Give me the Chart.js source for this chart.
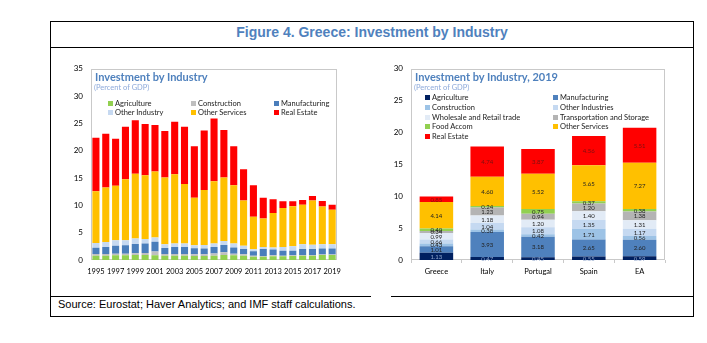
<!DOCTYPE html>
<html lang="en">
<head>
<meta charset="UTF-8">
<title>Figure 4. Greece: Investment by Industry</title>
<script src="https://cdn.jsdelivr.net/npm/chart.js@4.4.0/dist/chart.umd.min.js"></script>
<style>
    body {
        margin: 0;
        width: 707px;
        height: 343px;
        background: #fff;
        position: relative;
        overflow: hidden;
        font-family: Lato, 'Open Sans', sans-serif;
    }
    .line { position: absolute; background: #000; }
    .fig-title {
        position: absolute;
        left: 50px; width: 644px; top: 24px;
        text-align: center;
        font: bold 14px 'Liberation Sans', Arial, sans-serif;
        color: #4f81bd;
    }
    .source {
        position: absolute;
        left: 58px; top: 298px;
        font: 11px 'Liberation Sans', Arial, sans-serif;
        color: #000;
    }
    .chart-box { position: absolute; }
    .ctitle {
        position: absolute;
        font-weight: bold;
        font-size: 11px;
        color: #4f81bd;
        white-space: nowrap;
    }
    .csub {
        position: absolute;
        font-size: 7.5px;
        color: #8eaadb;
        white-space: nowrap;
    }
    .leg {
        position: absolute;
        font-size: 7.5px;
        color: #222;
        white-space: nowrap;
        line-height: 9px;
    }
    .leg i {
        display: inline-block;
        width: 5px; height: 5px;
        margin-right: 2px;
        vertical-align: 0px;
    }
</style>
</head>
<body>
    <!-- figure frame -->
    <div class="line" style="left:50px;top:21px;width:644px;height:1px"></div>
    <div class="line" style="left:50px;top:47px;width:644px;height:1px"></div>
    <div class="line" style="left:50px;top:296px;width:321px;height:1px"></div>
    <div class="line" style="left:391px;top:296px;width:303px;height:1px"></div>
    <div class="line" style="left:50px;top:316px;width:644px;height:1px"></div>
    <div class="line" style="left:50px;top:21px;width:1px;height:296px"></div>
    <div class="line" style="left:693px;top:21px;width:1px;height:296px"></div>

    <div class="fig-title">Figure 4. Greece: Investment by Industry</div>
    <div class="source">Source: Eurostat; Haver Analytics; and IMF staff calculations.</div>

    <div class="chart-box" style="left:52px;top:56px;width:296px;height:228px">
        <canvas id="byYear" width="296" height="228"></canvas>
    </div>
    <div class="chart-box" style="left:370px;top:56px;width:300px;height:228px">
        <canvas id="byCountry" width="300" height="228"></canvas>
    </div>

    <!-- left chart title + legend -->
    <div class="ctitle" style="left:95px;top:70px">Investment by Industry</div>
    <div class="csub" style="left:94px;top:83px">(Percent of GDP)</div>
    <div id="legLeft"></div>

    <!-- right chart title + legend -->
    <div class="ctitle" style="left:415px;top:70px">Investment by Industry, 2019</div>
    <div class="csub" style="left:414px;top:83px">(Percent of GDP)</div>
    <div id="legRight"></div>

<script>
// ---- left chart data (percent of GDP) ----
const years = ['1995','1996','1997','1998','1999','2000','2001','2002','2003','2004','2005','2006',
               '2007','2008','2009','2010','2011','2012','2013','2014','2015','2016','2017','2018','2019'];
const agriculture   = [0.8,0.8,0.85,0.85,0.9,0.9,0.85,0.8,0.8,0.8,0.75,0.75,0.8,0.9,0.85,0.8,0.6,0.6,0.7,0.7,0.75,0.8,0.8,0.9,0.9];
const construction  = [0.3,0.3,0.3,0.3,0.35,0.4,0.7,0.3,0.3,0.3,0.3,0.3,0.4,0.5,0.3,0.25,0.2,0.15,0.15,0.1,0.1,0.1,0.1,0.1,0.1];
const manufacturing = [1.15,1.3,1.45,1.55,1.7,1.7,1.8,1.1,1.3,1.3,1.1,1.05,1.2,1.35,1.15,0.95,0.8,1.25,1.05,0.9,0.85,1.1,1.1,1.1,1.1];
const otherIndustry = [0.85,0.9,1.0,0.9,1.0,0.85,0.75,0.7,0.6,0.6,0.55,0.65,0.6,0.75,0.7,0.6,0.35,0.4,0.4,0.7,0.8,0.9,0.8,0.8,0.8];
const otherServices = [9.5,9.95,10.0,11.2,11.85,11.65,12.1,12.2,12.7,10.9,8.7,10.05,11.4,11.6,10.7,8.3,5.95,5.2,6.3,7.1,7.35,7.2,8.1,6.9,6.3];
const realEstate    = [9.8,9.85,8.6,9.6,9.8,9.4,8.5,8.5,9.6,10.5,9.4,10.9,11.5,8.7,7.1,5.7,5.8,3.8,2.5,1.25,0.9,0.9,0.8,1.0,0.9];

// ---- right chart data, 2019 ----
const countries = ['Greece','Italy','Portugal','Spain','EA'];
const agri19      = [1.13,0.47,0.45,0.55,0.59];
const manuf19     = [1.01,3.93,3.18,2.65,2.60];
const constr19    = [0.43,0.38,0.42,1.71,0.56];
const otherInd19  = [0.66,1.04,1.08,1.35,1.17];
const wholesale19 = [0.99,1.18,1.20,1.40,1.31];
const transport19 = [0.34,1.23,0.94,1.20,1.38];
const food19      = [0.40,0.24,0.75,0.37,0.38];
const otherSrv19  = [4.14,4.60,5.52,5.65,7.27];
const realEst19   = [0.85,4.74,3.87,4.56,5.51];

const yTicksLeft = [0,5,10,15,20,25,30,35];
const yTicksRight = [0,5,10,15,20,25,30];

const FONT = 'Lato';

// grey border around the plot area
const plotBox = {
    id: 'plotBox',
    beforeDatasetsDraw(chart) {
        const a = chart.chartArea, ctx = chart.ctx;
        ctx.save();
        ctx.strokeStyle = '#c9c9c9';
        ctx.lineWidth = 1;
        ctx.strokeRect(Math.round(a.left) + 0.5, Math.round(a.top) + 0.5,
                       Math.round(a.right - a.left) - 1, Math.round(a.bottom - a.top) - 1);
        ctx.restore();
    }
};

// value labels inside each stacked segment
const segLabels = {
    id: 'segLabels',
    afterDatasetsDraw(chart) {
        const ctx = chart.ctx;
        ctx.save();
        ctx.font = '6px ' + FONT;
        ctx.textAlign = 'center';
        ctx.textBaseline = 'middle';
        chart.data.datasets.forEach((ds, i) => {
            chart.getDatasetMeta(i).data.forEach((bar, j) => {
                const p = bar.getProps(['x', 'y', 'base'], true);
                ctx.fillStyle = ds.textColor || '#222';
                ctx.fillText(ds.data[j].toFixed(2), p.x, (p.y + p.base) / 2 + 0.5);
            });
        });
        ctx.restore();
    }
};

function yScale(max, ticks, width, pad) {
    return {
        stacked: true, min: 0, max: max,
        afterBuildTicks: s => { s.ticks = ticks.map(v => ({ value: v })); },
        afterFit: s => { s.width = width; },
        grid: { display: false, drawTicks: false },
        border: { display: false },
        ticks: { padding: pad, color: '#000', font: { family: FONT, size: 8 } }
    };
}

Chart.defaults.animation = false;

const leftSeries = [
    ['Agriculture', agriculture, '#92d050'],
    ['Construction', construction, '#bfbfbf'],
    ['Manufacturing', manufacturing, '#4a7ebb'],
    ['Other Industry', otherIndustry, '#c6d9f1'],
    ['Other Services', otherServices, '#ffc000'],
    ['Real Estate', realEstate, '#ff0000']
];

new Chart(document.getElementById('byYear'), {
    type: 'bar',
    data: {
        labels: years,
        datasets: leftSeries.map(s => ({
            label: s[0], data: s[1], backgroundColor: s[2],
            categoryPercentage: 0.72, barPercentage: 1
        }))
    },
    options: {
        responsive: false,
        layout: { padding: { top: 6, right: 7, left: 0, bottom: 0 } },
        plugins: { legend: { display: false }, tooltip: { enabled: false } },
        scales: {
            x: {
                stacked: true,
                afterFit: s => { s.height = 24; },
                grid: { display: false, drawTicks: false },
                border: { display: false },
                ticks: {
                    autoSkip: false, maxRotation: 0, padding: 7, color: '#000',
                    font: { family: FONT, size: 7.5 },
                    callback: (v, i) => i % 2 === 0 ? years[i] : ''
                }
            },
            y: yScale(35, yTicksLeft, 39, 8)
        }
    },
    plugins: [plotBox]
});

const rightSeries = [
    ['Agriculture', agri19, '#002060', '#8fa6cc'],
    ['Manufacturing', manuf19, '#4f81bd'],
    ['Construction', constr19, '#9dc3e6'],
    ['Other Industries', otherInd19, '#c5d9f1'],
    ['Wholesale and Retail trade', wholesale19, '#e2ebf6'],
    ['Transportation and Storage', transport19, '#b4b4b4'],
    ['Food Accom', food19, '#92d050'],
    ['Other Services', otherSrv19, '#ffc000'],
    ['Real Estate', realEst19, '#ff0000', '#7a1010']
];

new Chart(document.getElementById('byCountry'), {
    type: 'bar',
    data: {
        labels: countries,
        datasets: rightSeries.map(s => ({
            label: s[0], data: s[1], backgroundColor: s[2], textColor: s[3],
            categoryPercentage: 0.66, barPercentage: 1
        }))
    },
    options: {
        responsive: false,
        layout: { padding: { top: 6, right: 5, left: 0, bottom: 0 } },
        plugins: { legend: { display: false }, tooltip: { enabled: false } },
        scales: {
            x: {
                stacked: true,
                afterFit: s => { s.height = 24; },
                grid: { offset: true, drawOnChartArea: false, drawTicks: true, tickLength: 3, color: '#c9c9c9' },
                border: { display: false },
                ticks: { padding: 4, color: '#000', font: { family: FONT, size: 7.5 } }
            },
            y: yScale(30, yTicksRight, 41, 8)
        }
    },
    plugins: [plotBox, segLabels]
});

// custom legends (HTML, laid out like the original)
function addLegend(id, items) {
    const host = document.getElementById(id);
    items.forEach(it => {
        const d = document.createElement('div');
        d.className = 'leg';
        d.style.left = it.x + 'px';
        d.style.top = it.y + 'px';
        d.innerHTML = '<i style="background:' + it.c + '"></i>' + it.t;
        host.appendChild(d);
    });
}

const lx = [108, 191, 274], ly = [99, 108];
addLegend('legLeft', [
    { t: leftSeries[0][0], c: leftSeries[0][2], x: lx[0], y: ly[0] },
    { t: leftSeries[1][0], c: leftSeries[1][2], x: lx[1], y: ly[0] },
    { t: leftSeries[2][0], c: leftSeries[2][2], x: lx[2], y: ly[0] },
    { t: leftSeries[3][0], c: leftSeries[3][2], x: lx[0], y: ly[1] },
    { t: leftSeries[4][0], c: leftSeries[4][2], x: lx[1], y: ly[1] },
    { t: leftSeries[5][0], c: leftSeries[5][2], x: lx[2], y: ly[1] }
]);

const rx = [425, 553], ry = [93, 103, 113, 122, 132];
addLegend('legRight', rightSeries.map((s, i) => ({
    t: s[0], c: s[2], x: rx[i % 2], y: ry[Math.floor(i / 2)]
})));
</script>
</body>
</html>
